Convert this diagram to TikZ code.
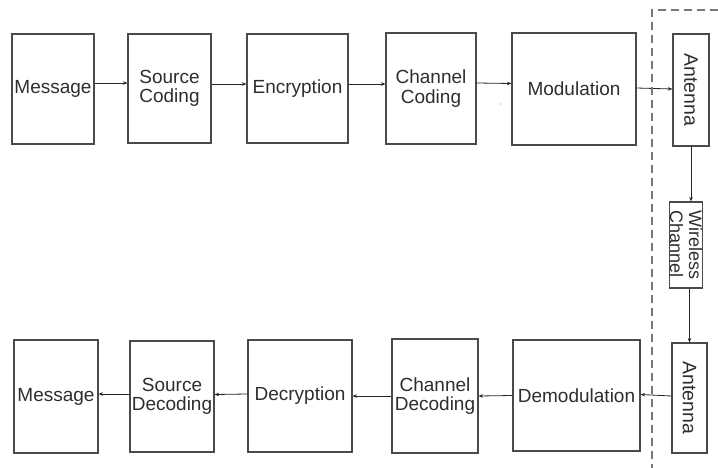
\documentclass[tikz,border=0pt]{standalone}
\usepackage{fontspec}
\setmainfont{Liberation Sans}
\usetikzlibrary{arrows.meta}
\definecolor{txt}{HTML}{2E2E2E}
\definecolor{edge}{HTML}{4A4A4A}
\definecolor{dash}{HTML}{777777}
\tikzset{
  blk/.style={draw=edge, line width=1.1pt, inner sep=0pt, align=center,
    text=txt, font=\fontsize{19}{19.5}\selectfont},
  flow/.style={draw=black!85, line width=0.8pt,
    -{Stealth[length=4.5pt,width=3.5pt]}},
  border/.style={draw=dash, line width=1.1pt, dash pattern=on 8pt off 5pt}
}
\begin{document}
\begin{tikzpicture}[x=1pt,y=1pt]
\useasboundingbox (0,0) rectangle (718,-468);
\fill[white] (0,0) rectangle (718,-468);

% transmitter chain
\node[blk, minimum width=82pt, minimum height=110pt] (msgA) at (53,-89) {Message};
\node[blk, minimum width=83pt, minimum height=109pt] (src) at (169.5,-88.5) {Source\\Coding};
\node[blk, minimum width=101pt, minimum height=109pt] (enc) at (297.5,-88.5) {Encryption};
\node[blk, minimum width=90pt, minimum height=111pt] (chc) at (431,-88.5) {Channel\\Coding};
\node[blk, minimum width=124pt, minimum height=112pt] (mod) at (574,-89) {Modulation};
% rotated boxes: width runs along the text, i.e. vertically on the page
\node[blk, minimum width=112pt, minimum height=36pt, rotate=-90,
  font=\fontsize{19.5}{20}\selectfont] (antT) at (691,-90) {Antenna};

% wireless link
\node[blk, minimum width=86pt, minimum height=33pt, rotate=-90, align=left,
  font=\fontsize{18}{19}\selectfont] (chan) at (686,-245) {Wireless\\Channel};

% receiver chain
\node[blk, minimum width=110pt, minimum height=35pt, rotate=-90,
  font=\fontsize{19.5}{20}\selectfont] (antB) at (689.5,-398) {Antenna};
\node[blk, minimum width=127pt, minimum height=111pt] (dem) at (576.5,-395.5) {Demodulation};
\node[blk, minimum width=86pt, minimum height=114pt] (chd) at (435,-396) {Channel\\Decoding};
\node[blk, minimum width=104pt, minimum height=112pt] (dec) at (300,-396) {Decryption};
\node[blk, minimum width=84pt, minimum height=111pt] (sdc) at (172,-396.5) {Source\\Decoding};
\node[blk, minimum width=84pt, minimum height=113pt] (msgB) at (56,-396.5) {Message};

% connectors, top row
\draw[flow] ([yshift=6pt]msgA.east) -- ([yshift=5.5pt]src.west);
\draw[flow] ([yshift=4.5pt]src.east) -- ([yshift=4.5pt]enc.west);
\draw[flow] ([yshift=4.5pt]enc.east) -- ([yshift=4.5pt]chc.west);
\draw[flow] ([yshift=5.5pt]chc.east) -- ([yshift=5.5pt]mod.west);
\draw[flow] ([yshift=1pt]mod.east) -- (mod.east -| antT.south);

% connectors, link (antT.east is the bottom edge after rotation)
\draw[flow] (antT.east) -- (antT.east |- chan.west);
\draw[flow] (antB.west |- chan.east) -- (antB.west);

% connectors, bottom row
\draw[flow] ([yshift=2pt]antB.south) -- ([yshift=1pt]dem.east);
\draw[flow] (dem.west) -- (chd.east);
\draw[flow] (chd.west) -- (dec.east);
\draw[flow] ([yshift=2pt]dec.west) -- ([yshift=2pt]sdc.east);
\draw[flow] ([yshift=2.5pt]sdc.west) -- ([yshift=2.5pt]msgB.east);

% boundary of the radio section
\coordinate (bTop) at (652,-10);
\coordinate (bRight) at (718,-10);
\coordinate (bBot) at (652,-468);
\draw[border] (bRight) -- (bTop) -- (bBot);

% stray mark
\fill[black!45] (501,-104) circle (0.7pt);
\end{tikzpicture}
\end{document}
